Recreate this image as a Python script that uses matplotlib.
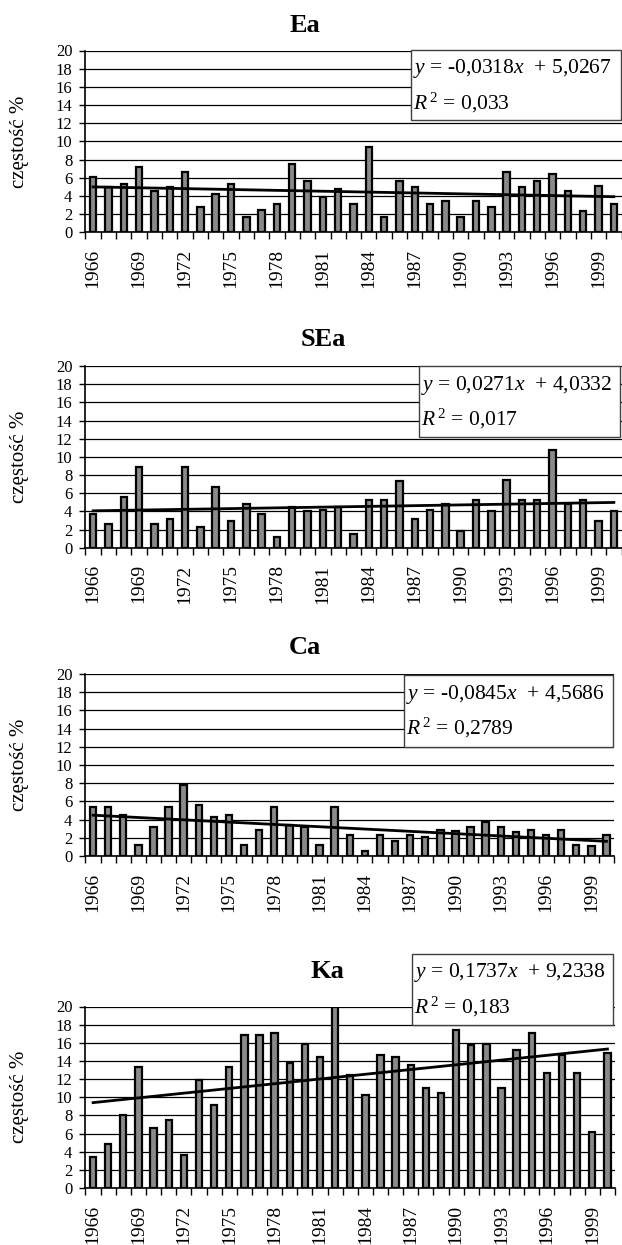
import numpy as np
import matplotlib.pyplot as plt
from matplotlib.patches import Rectangle

# years 1966-2000
years = list(range(1966, 2001))

ea = [6.1, 5.0, 5.3, 7.2, 4.5, 5.0, 6.6, 2.8, 4.2, 5.3,
      1.7, 2.5, 3.1, 7.5, 5.6, 3.9, 4.8, 3.1, 9.4, 1.7,
      5.6, 5.0, 3.1, 3.4, 1.7, 3.4, 2.8, 6.6, 5.0, 5.6,
      6.4, 4.5, 2.3, 5.1, 3.1]
sea = [3.7, 2.6, 5.6, 8.9, 2.6, 3.2, 8.9, 2.3, 6.7, 2.9,
       4.8, 3.7, 1.2, 4.5, 4.0, 4.2, 4.5, 1.5, 5.3, 5.3,
       7.3, 3.2, 4.2, 4.8, 1.8, 5.3, 4.0, 7.5, 5.3, 5.3,
       10.8, 4.8, 5.3, 2.9, 4.0]
ca = [5.35, 5.35, 4.5, 1.2, 3.15, 5.35, 7.8, 5.6, 4.25, 4.5,
      1.2, 2.9, 5.35, 3.4, 3.15, 1.2, 5.35, 2.3, 0.5, 2.3,
      1.6, 2.3, 2.1, 2.9, 2.7, 3.15, 3.7, 3.15, 2.6, 2.9,
      2.3, 2.9, 1.2, 1.15, 2.3]
ka = [3.4, 4.8, 8.0, 13.3, 6.6, 7.45, 3.6, 11.9, 9.1, 13.3,
      16.9, 16.9, 17.1, 13.8, 15.9, 14.4, 19.9, 12.4, 10.2, 14.65,
      14.4, 13.5, 11.0, 10.5, 17.4, 15.75, 15.9, 11.0, 15.2, 17.1,
      12.7, 14.65, 12.7, 6.2, 14.9]

names = ['Ea', 'SEa', 'Ca', 'Ka']
slopes = [-0.0318, 0.0271, -0.0845, 0.1737]
intercepts = [5.0267, 4.0332, 4.5686, 9.2338]
eq_texts = ['-0,0318', '0,0271', '-0,0845', '0,1737']
icpt_texts = ['5,0267', '4,0332', '4,5686', '9,2338']
r2_texts = ['0,033', '0,017', '0,2789', '0,183']

plt.rcParams['font.family'] = ['Liberation Serif', 'DejaVu Serif']
plt.rcParams['mathtext.fontset'] = 'custom'
plt.rcParams['mathtext.rm'] = 'Liberation Serif'
plt.rcParams['mathtext.it'] = 'Liberation Serif:italic'

W, H = 622, 1245

# pixel layout: axes (left, right, top, bottom), title centre, equation box (l, r, t, b)
layout = [
    dict(ax=(85.5, 621.5, 50.5, 232.3), title=(305, 25), box=(411, 621, 50, 120)),
    dict(ax=(85.5, 621.5, 366, 547.7), title=(323, 339), box=(418.7, 620, 366, 437.3)),
    dict(ax=(85.5, 614, 674, 856), title=(305, 647), box=(404, 613, 675, 746.7)),
    dict(ax=(85.5, 615, 1006.5, 1188), title=(327, 972), box=(411.7, 613.3, 954, 1025)),
]


def fx(px):
    return px / W


def fy(py):
    return 1 - py / H


def panel(fig, values, i):
    lay = layout[i]
    l, r, t, b = lay['ax']
    ax = fig.add_axes([fx(l), fy(b), fx(r - l), (b - t) / H])
    x = np.arange(1, len(values) + 1)

    ax.bar(x, values, width=0.42, color='#8a8a8a', edgecolor='black', linewidth=1.6, zorder=3)
    ax.plot(x, slopes[i] * x + intercepts[i], color='black', lw=2, zorder=4)

    ax.set_xlim(0.5, len(values) + 0.5)
    ax.set_ylim(0, 20)
    ax.set_yticks(range(0, 21, 2))
    ax.yaxis.grid(True, color='black', lw=0.9)
    ax.set_axisbelow(True)

    ax.set_xticks(np.arange(0.5, len(values) + 1), labels=[])
    ax.set_xticks(x[::3], labels=[str(y) for y in years[::3]], minor=True)
    ax.tick_params(axis='x', which='major', direction='out', length=5, width=1)
    ax.tick_params(axis='x', which='minor', length=0, pad=12, labelsize=14, labelrotation=90)
    ax.tick_params(axis='y', direction='out', length=4.5, width=1, labelsize=12, pad=5)

    for s in ['top', 'right']:
        ax.spines[s].set_visible(False)
    for s in ['left', 'bottom']:
        ax.spines[s].set_linewidth(1.2)

    fig.text(fx(20), fy((t + b) / 2), 'częstość %', rotation=90, fontsize=15,
             ha='center', va='center')
    tx, ty = lay['title']
    fig.text(fx(tx), fy(ty), names[i], fontsize=19, fontweight='bold', ha='center', va='center')

    bl, br, bt, bb = lay['box']
    fig.add_artist(Rectangle((fx(bl), fy(bb)), fx(br - bl), (bb - bt) / H,
                             transform=fig.transFigure, facecolor='white',
                             edgecolor='#404040', lw=1, zorder=5))
    fig.text(fx(bl + 2), fy(bt + 19), '$y$ = %s$x$  + %s' % (eq_texts[i], icpt_texts[i]),
             fontsize=15.5, ha='left', va='center', zorder=6)
    fig.text(fx(bl + 2), fy(bt + 53), '$R^{\\,2}$ = %s' % r2_texts[i],
             fontsize=15.5, ha='left', va='center', zorder=6)


fig = plt.figure(figsize=(W / 100, H / 100), dpi=100)
for i, vals in enumerate([ea, sea, ca, ka]):
    panel(fig, vals, i)

fig.savefig('out.png', dpi=100)
